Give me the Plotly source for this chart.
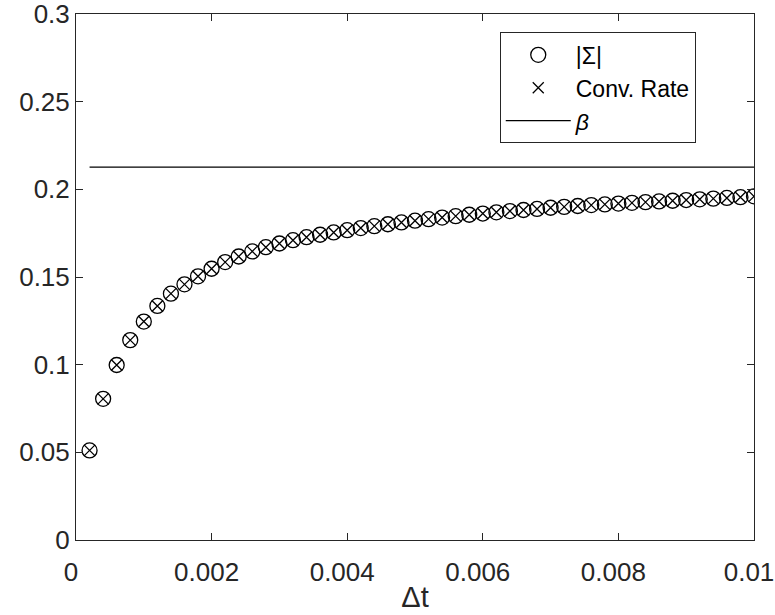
import plotly.graph_objects as go

dt = [0.0002 * k for k in range(1, 51)]
sigma = [0.0511, 0.0805, 0.0998, 0.1140, 0.1246, 0.1335, 0.1405, 0.1458, 0.1504, 0.1547,
         0.1585, 0.1617, 0.1646, 0.1670, 0.1691, 0.1710, 0.1727, 0.1741, 0.1754, 0.1767,
         0.1779, 0.1790, 0.1801, 0.1811, 0.1821, 0.1830, 0.1839, 0.1847, 0.1855, 0.1862,
         0.1869, 0.1876, 0.1882, 0.1888, 0.1895, 0.1900, 0.1905, 0.1910, 0.1914, 0.1919,
         0.1923, 0.1927, 0.1931, 0.1935, 0.1939, 0.1943, 0.1947, 0.1951, 0.1955, 0.1960]
conv_rate = list(sigma)
beta = 0.2127
beta_x = [0.0002, 0.01]

x_ticks = [0, 0.002, 0.004, 0.006, 0.008, 0.01]
x_tick_labels = ["0", "0.002", "0.004", "0.006", "0.008", "0.01"]
y_ticks = [0, 0.05, 0.1, 0.15, 0.2, 0.25, 0.3]
y_tick_labels = ["0", "0.05", "0.1", "0.15", "0.2", "0.25", "0.3"]

FONT = "Liberation Sans, Arial, Helvetica, sans-serif"
AX = "#262626"

fig = go.Figure()
fig.add_trace(go.Scatter(
    x=dt, y=sigma, mode="markers", name="|Σ|",
    marker=dict(symbol="circle-open", size=15, color="black", line=dict(width=1.3, color="black")),
))
fig.add_trace(go.Scatter(
    x=dt, y=conv_rate, mode="markers", name="Conv. Rate",
    marker=dict(symbol="x-thin-open", size=11, color="black", line=dict(width=1.3, color="black")),
))
fig.add_trace(go.Scatter(
    x=beta_x, y=[beta, beta], mode="lines", name="<i>β</i>",
    line=dict(color="black", width=1.2),
))

axis_common = dict(
    showline=True, linecolor=AX, linewidth=1, mirror="ticks",
    ticks="inside", ticklen=7, tickwidth=1, tickcolor=AX,
    showgrid=False, zeroline=False, ticklabeloverflow="allow", automargin=False,
    tickfont=dict(family=FONT, size=26, color=AX),
)

fig.update_layout(
    width=775, height=615,
    margin=dict(l=76, r=21, t=14, b=75),
    paper_bgcolor="white", plot_bgcolor="white",
    font=dict(family=FONT, color=AX),
    xaxis=dict(range=[0, 0.0100001], tickvals=x_ticks, ticktext=x_tick_labels,
               ticklabelstandoff=9, ticklabelshift=-5,
               title=dict(text="Δt", font=dict(family=FONT, size=29, color=AX), standoff=0),
               **axis_common),
    yaxis=dict(range=[0, 0.300001], tickvals=y_ticks, ticktext=y_tick_labels, **axis_common),
    legend=dict(
        x=0.625, y=0.965, xanchor="left", yanchor="top",
        bgcolor="white", bordercolor=AX, borderwidth=1,
        font=dict(family=FONT, size=23, color="black"),
        itemwidth=65, tracegroupgap=0,
    ),
    showlegend=True,
)

fig.write_html("out.html")
